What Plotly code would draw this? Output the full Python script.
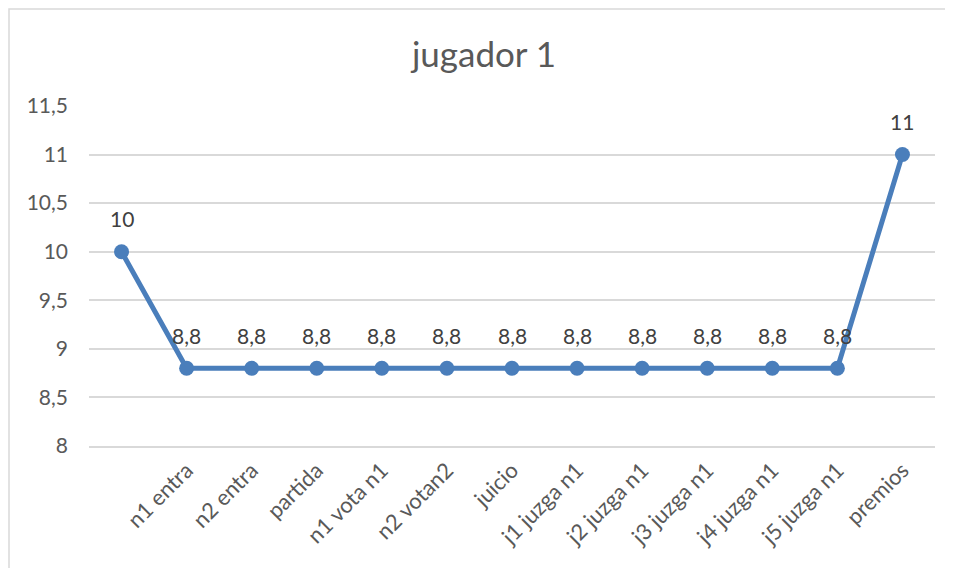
import plotly.graph_objects as go

title_text = "jugador 1"
categories = ["", "n1 entra", "n2 entra", "partida", "n1 vota n1", "n2 votan2", "juicio",
              "j1 juzga n1", "j2 juzga n1", "j3 juzga n1", "j4 juzga n1", "j5 juzga n1", "premios"]
values = [10, 8.8, 8.8, 8.8, 8.8, 8.8, 8.8, 8.8, 8.8, 8.8, 8.8, 8.8, 11]
y_ticks = [8, 8.5, 9, 9.5, 10, 10.5, 11, 11.5]

x_idx = list(range(len(categories)))

def fmt(v):
    return ("%g" % v).replace(".", ",")

FONT = "Lato"
LINE = "#4a7ebb"

# page body has an 8px margin, so the figure starts at (8, 8)
OFF = 8
W, H = 953 - OFF, 568 - OFF
L, R, T, B = 89 - OFF, 18, 106 - OFF, 122
pw, ph = W - L - R, H - T - B

fig = go.Figure()
fig.add_trace(go.Scatter(
    x=x_idx, y=values, mode="lines+markers",
    line=dict(color=LINE, width=5),
    marker=dict(color=LINE, size=15),
    hoverinfo="skip", showlegend=False,
))

for xi, v in zip(x_idx, values):
    fig.add_annotation(x=xi, y=v, text=fmt(v), showarrow=False,
                       yshift=33, yanchor="middle",
                       font=dict(family=FONT, size=21, color="#404040"))

def px_to_paper_x(px):
    return (px - OFF - L) / pw

def px_to_paper_y(py):
    return (H - B - (py - OFF)) / ph

fig.add_shape(type="rect", xref="paper", yref="paper",
              x0=px_to_paper_x(9), x1=px_to_paper_x(1100),
              y0=px_to_paper_y(800), y1=px_to_paper_y(9),
              line=dict(color="#d9d9d9", width=1.5), fillcolor="rgba(0,0,0,0)", layer="below")

fig.update_layout(
    width=W, height=H,
    margin=dict(l=L, r=R, t=T, b=B),
    paper_bgcolor="white", plot_bgcolor="white",
    separators=",.",
    title=dict(text=title_text, x=(484 - OFF) / W, xanchor="center", xref="container",
               y=1 - (55 - OFF) / H, yanchor="middle", yref="container",
               font=dict(family=FONT, size=35, color="#595959")),
    xaxis=dict(range=[-0.5, len(categories) - 0.5], tickmode="array",
               tickvals=x_idx, ticktext=categories, tickangle=-45,
               showgrid=False, zeroline=False, showline=True,
               linecolor="#d9d9d9", linewidth=1.5, ticks="",
               ticklabelstandoff=1,
               tickfont=dict(family=FONT, size=22, color="#595959")),
    yaxis=dict(range=[8, 11.5], tickmode="array", tickvals=y_ticks,
               showgrid=True, gridcolor="#d9d9d9", gridwidth=1.5,
               zeroline=False, showline=False, ticks="",
               ticklabelstandoff=20,
               tickfont=dict(family=FONT, size=21, color="#595959")),
)

fig.write_html("out.html")
